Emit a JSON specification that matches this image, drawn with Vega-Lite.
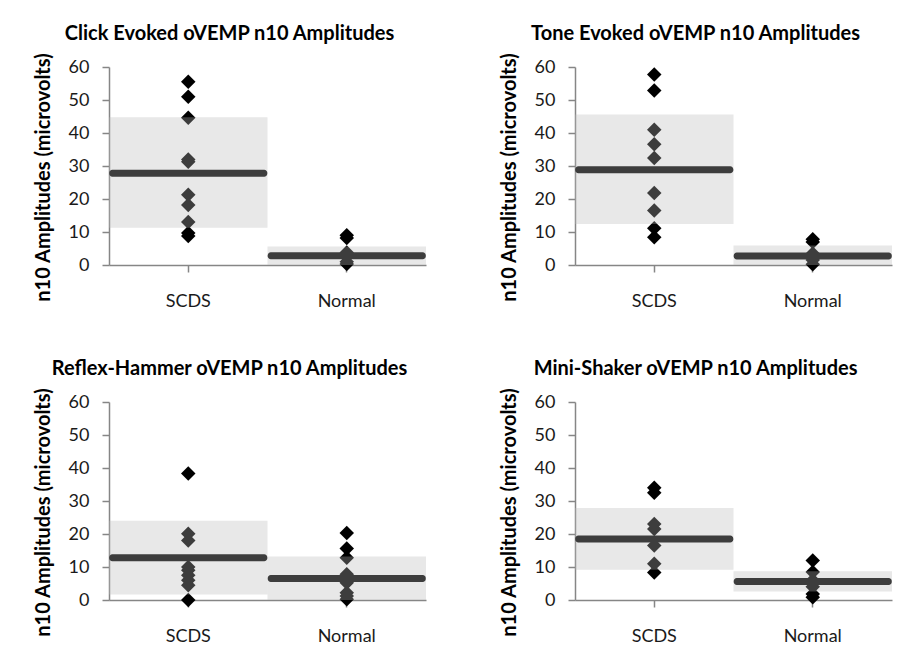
{
  "$schema": "https://vega.github.io/schema/vega-lite/v6.json",
  "padding": {"left": 33, "top": 23, "right": 5, "bottom": 5},
  "background": "white",
  "config": {
    "font": "Lato",
    "view": {"stroke": null},
    "title": {"fontSize": 20, "fontWeight": "bold", "color": "#000000", "offset": 9, "font": "Lato", "frame": "bounds", "anchor": "middle"},
    "axis": {
      "domainColor": "#868686", "tickColor": "#868686", "domainWidth": 1.5, "tickWidth": 1.5,
      "labelColor": "#1a1a1a", "labelFontSize": 18, "labelFont": "Lato", "grid": false,
      "titleColor": "#000000", "titleFontWeight": "bold", "titleFontSize": 20, "titleFont": "Lato"
    },
    "axisX": {"labelAngle": 0, "labelPadding": 20, "tickSize": 7},
    "axisY": {"tickSize": 7, "labelPadding": 13, "titlePadding": 15, "titleY": 110}
  },
  "datasets": {
    "points": [
      {"panel": "Click", "group": "SCDS", "value": 55.5},
      {"panel": "Click", "group": "SCDS", "value": 51.0},
      {"panel": "Click", "group": "SCDS", "value": 44.6},
      {"panel": "Click", "group": "SCDS", "value": 32.0},
      {"panel": "Click", "group": "SCDS", "value": 31.3},
      {"panel": "Click", "group": "SCDS", "value": 21.3},
      {"panel": "Click", "group": "SCDS", "value": 18.2},
      {"panel": "Click", "group": "SCDS", "value": 13.0},
      {"panel": "Click", "group": "SCDS", "value": 9.7},
      {"panel": "Click", "group": "SCDS", "value": 8.8},
      {"panel": "Click", "group": "Normal", "value": 9.0},
      {"panel": "Click", "group": "Normal", "value": 8.2},
      {"panel": "Click", "group": "Normal", "value": 3.8},
      {"panel": "Click", "group": "Normal", "value": 2.5},
      {"panel": "Click", "group": "Normal", "value": 1.0},
      {"panel": "Click", "group": "Normal", "value": 0.3},
      {"panel": "Tone", "group": "SCDS", "value": 57.7},
      {"panel": "Tone", "group": "SCDS", "value": 52.9},
      {"panel": "Tone", "group": "SCDS", "value": 41.0},
      {"panel": "Tone", "group": "SCDS", "value": 36.6},
      {"panel": "Tone", "group": "SCDS", "value": 32.4},
      {"panel": "Tone", "group": "SCDS", "value": 21.8},
      {"panel": "Tone", "group": "SCDS", "value": 16.5},
      {"panel": "Tone", "group": "SCDS", "value": 11.1},
      {"panel": "Tone", "group": "SCDS", "value": 8.4},
      {"panel": "Tone", "group": "Normal", "value": 7.8},
      {"panel": "Tone", "group": "Normal", "value": 7.0},
      {"panel": "Tone", "group": "Normal", "value": 3.5},
      {"panel": "Tone", "group": "Normal", "value": 1.5},
      {"panel": "Tone", "group": "Normal", "value": 0.2},
      {"panel": "Reflex", "group": "SCDS", "value": 38.3},
      {"panel": "Reflex", "group": "SCDS", "value": 20.1},
      {"panel": "Reflex", "group": "SCDS", "value": 18.0},
      {"panel": "Reflex", "group": "SCDS", "value": 10.0},
      {"panel": "Reflex", "group": "SCDS", "value": 9.0},
      {"panel": "Reflex", "group": "SCDS", "value": 7.5},
      {"panel": "Reflex", "group": "SCDS", "value": 6.0},
      {"panel": "Reflex", "group": "SCDS", "value": 4.5},
      {"panel": "Reflex", "group": "SCDS", "value": 0.0},
      {"panel": "Reflex", "group": "Normal", "value": 20.3},
      {"panel": "Reflex", "group": "Normal", "value": 15.6},
      {"panel": "Reflex", "group": "Normal", "value": 12.8},
      {"panel": "Reflex", "group": "Normal", "value": 7.8},
      {"panel": "Reflex", "group": "Normal", "value": 6.8},
      {"panel": "Reflex", "group": "Normal", "value": 5.2},
      {"panel": "Reflex", "group": "Normal", "value": 2.2},
      {"panel": "Reflex", "group": "Normal", "value": 1.2},
      {"panel": "Reflex", "group": "Normal", "value": 0.2},
      {"panel": "Mini", "group": "SCDS", "value": 34.0},
      {"panel": "Mini", "group": "SCDS", "value": 32.5},
      {"panel": "Mini", "group": "SCDS", "value": 23.0},
      {"panel": "Mini", "group": "SCDS", "value": 21.5},
      {"panel": "Mini", "group": "SCDS", "value": 16.5},
      {"panel": "Mini", "group": "SCDS", "value": 11.0},
      {"panel": "Mini", "group": "SCDS", "value": 8.3},
      {"panel": "Mini", "group": "Normal", "value": 12.0},
      {"panel": "Mini", "group": "Normal", "value": 8.5},
      {"panel": "Mini", "group": "Normal", "value": 6.0},
      {"panel": "Mini", "group": "Normal", "value": 4.0},
      {"panel": "Mini", "group": "Normal", "value": 1.8},
      {"panel": "Mini", "group": "Normal", "value": 0.8}
    ],
    "stats": [
      {"panel": "Click", "group": "SCDS", "mean": 27.8, "lo": 11.3, "hi": 44.8},
      {"panel": "Click", "group": "Normal", "mean": 2.8, "lo": 0, "hi": 5.6},
      {"panel": "Tone", "group": "SCDS", "mean": 28.9, "lo": 12.4, "hi": 45.6},
      {"panel": "Tone", "group": "Normal", "mean": 2.7, "lo": 0, "hi": 5.9},
      {"panel": "Reflex", "group": "SCDS", "mean": 12.8, "lo": 1.7, "hi": 24.0},
      {"panel": "Reflex", "group": "Normal", "mean": 6.5, "lo": 0, "hi": 13.2},
      {"panel": "Mini", "group": "SCDS", "mean": 18.5, "lo": 9.2, "hi": 27.9},
      {"panel": "Mini", "group": "Normal", "mean": 5.6, "lo": 2.6, "hi": 8.7}
    ]
  },
  "spacing": 48,
  "vconcat": [
    {
      "spacing": 73,
      "hconcat": [
        {
          "title": "Click Evoked oVEMP n10 Amplitudes",
          "width": 317, "height": 198,
          "layer": [
            {"data": {"name": "stats"}, "transform": [{"filter": "datum.panel === 'Click'"}],
             "mark": {"type": "tick", "thickness": 7, "size": 158, "color": "#000000", "cornerRadius": 3, "opacity": 1},
             "encoding": {
               "x": {"field": "group", "type": "nominal", "title": null, "scale": {"domain": ["SCDS", "Normal"], "paddingInner": 0, "paddingOuter": 0}},
               "y": {"field": "mean", "type": "quantitative", "title": "n10 Amplitudes (microvolts)", "scale": {"domain": [0, 60]}, "axis": {"values": [0, 10, 20, 30, 40, 50, 60]}}
             }},
            {"data": {"name": "points"}, "transform": [{"filter": "datum.panel === 'Click'"}],
             "mark": {"type": "point", "shape": "diamond", "filled": true, "size": 210, "color": "#000000", "opacity": 1},
             "encoding": {
               "x": {"field": "group", "type": "nominal", "title": null},
               "y": {"field": "value", "type": "quantitative", "title": "n10 Amplitudes (microvolts)", "axis": {"values": [0, 10, 20, 30, 40, 50, 60]}}
             }},
            {"data": {"name": "stats"}, "transform": [{"filter": "datum.panel === 'Click'"}],
             "mark": {"type": "rect", "fill": "#b9b9b9", "opacity": 0.33},
             "encoding": {
               "x": {"field": "group", "type": "nominal", "title": null},
               "y": {"field": "lo", "type": "quantitative", "title": "n10 Amplitudes (microvolts)", "axis": {"values": [0, 10, 20, 30, 40, 50, 60]}},
               "y2": {"field": "hi"}
             }}
          ]
        },
        {
          "title": "Tone Evoked oVEMP n10 Amplitudes",
          "width": 317, "height": 198,
          "layer": [
            {"data": {"name": "stats"}, "transform": [{"filter": "datum.panel === 'Tone'"}],
             "mark": {"type": "tick", "thickness": 7, "size": 158, "color": "#000000", "cornerRadius": 3, "opacity": 1},
             "encoding": {
               "x": {"field": "group", "type": "nominal", "title": null, "scale": {"domain": ["SCDS", "Normal"], "paddingInner": 0, "paddingOuter": 0}},
               "y": {"field": "mean", "type": "quantitative", "title": "n10 Amplitudes (microvolts)", "scale": {"domain": [0, 60]}, "axis": {"values": [0, 10, 20, 30, 40, 50, 60]}}
             }},
            {"data": {"name": "points"}, "transform": [{"filter": "datum.panel === 'Tone'"}],
             "mark": {"type": "point", "shape": "diamond", "filled": true, "size": 210, "color": "#000000", "opacity": 1},
             "encoding": {
               "x": {"field": "group", "type": "nominal", "title": null},
               "y": {"field": "value", "type": "quantitative", "title": "n10 Amplitudes (microvolts)", "axis": {"values": [0, 10, 20, 30, 40, 50, 60]}}
             }},
            {"data": {"name": "stats"}, "transform": [{"filter": "datum.panel === 'Tone'"}],
             "mark": {"type": "rect", "fill": "#b9b9b9", "opacity": 0.33},
             "encoding": {
               "x": {"field": "group", "type": "nominal", "title": null},
               "y": {"field": "lo", "type": "quantitative", "title": "n10 Amplitudes (microvolts)", "axis": {"values": [0, 10, 20, 30, 40, 50, 60]}},
               "y2": {"field": "hi"}
             }}
          ]
        }
      ]
    },
    {
      "spacing": 73,
      "hconcat": [
        {
          "title": "Reflex-Hammer oVEMP n10 Amplitudes",
          "width": 317, "height": 198,
          "layer": [
            {"data": {"name": "stats"}, "transform": [{"filter": "datum.panel === 'Reflex'"}],
             "mark": {"type": "tick", "thickness": 7, "size": 158, "color": "#000000", "cornerRadius": 3, "opacity": 1},
             "encoding": {
               "x": {"field": "group", "type": "nominal", "title": null, "scale": {"domain": ["SCDS", "Normal"], "paddingInner": 0, "paddingOuter": 0}},
               "y": {"field": "mean", "type": "quantitative", "title": "n10 Amplitudes (microvolts)", "scale": {"domain": [0, 60]}, "axis": {"values": [0, 10, 20, 30, 40, 50, 60]}}
             }},
            {"data": {"name": "points"}, "transform": [{"filter": "datum.panel === 'Reflex'"}],
             "mark": {"type": "point", "shape": "diamond", "filled": true, "size": 210, "color": "#000000", "opacity": 1},
             "encoding": {
               "x": {"field": "group", "type": "nominal", "title": null},
               "y": {"field": "value", "type": "quantitative", "title": "n10 Amplitudes (microvolts)", "axis": {"values": [0, 10, 20, 30, 40, 50, 60]}}
             }},
            {"data": {"name": "stats"}, "transform": [{"filter": "datum.panel === 'Reflex'"}],
             "mark": {"type": "rect", "fill": "#b9b9b9", "opacity": 0.33},
             "encoding": {
               "x": {"field": "group", "type": "nominal", "title": null},
               "y": {"field": "lo", "type": "quantitative", "title": "n10 Amplitudes (microvolts)", "axis": {"values": [0, 10, 20, 30, 40, 50, 60]}},
               "y2": {"field": "hi"}
             }}
          ]
        },
        {
          "title": "Mini-Shaker oVEMP n10 Amplitudes",
          "width": 317, "height": 198,
          "layer": [
            {"data": {"name": "stats"}, "transform": [{"filter": "datum.panel === 'Mini'"}],
             "mark": {"type": "tick", "thickness": 7, "size": 158, "color": "#000000", "cornerRadius": 3, "opacity": 1},
             "encoding": {
               "x": {"field": "group", "type": "nominal", "title": null, "scale": {"domain": ["SCDS", "Normal"], "paddingInner": 0, "paddingOuter": 0}},
               "y": {"field": "mean", "type": "quantitative", "title": "n10 Amplitudes (microvolts)", "scale": {"domain": [0, 60]}, "axis": {"values": [0, 10, 20, 30, 40, 50, 60]}}
             }},
            {"data": {"name": "points"}, "transform": [{"filter": "datum.panel === 'Mini'"}],
             "mark": {"type": "point", "shape": "diamond", "filled": true, "size": 210, "color": "#000000", "opacity": 1},
             "encoding": {
               "x": {"field": "group", "type": "nominal", "title": null},
               "y": {"field": "value", "type": "quantitative", "title": "n10 Amplitudes (microvolts)", "axis": {"values": [0, 10, 20, 30, 40, 50, 60]}}
             }},
            {"data": {"name": "stats"}, "transform": [{"filter": "datum.panel === 'Mini'"}],
             "mark": {"type": "rect", "fill": "#b9b9b9", "opacity": 0.33},
             "encoding": {
               "x": {"field": "group", "type": "nominal", "title": null},
               "y": {"field": "lo", "type": "quantitative", "title": "n10 Amplitudes (microvolts)", "axis": {"values": [0, 10, 20, 30, 40, 50, 60]}},
               "y2": {"field": "hi"}
             }}
          ]
        }
      ]
    }
  ]
}
